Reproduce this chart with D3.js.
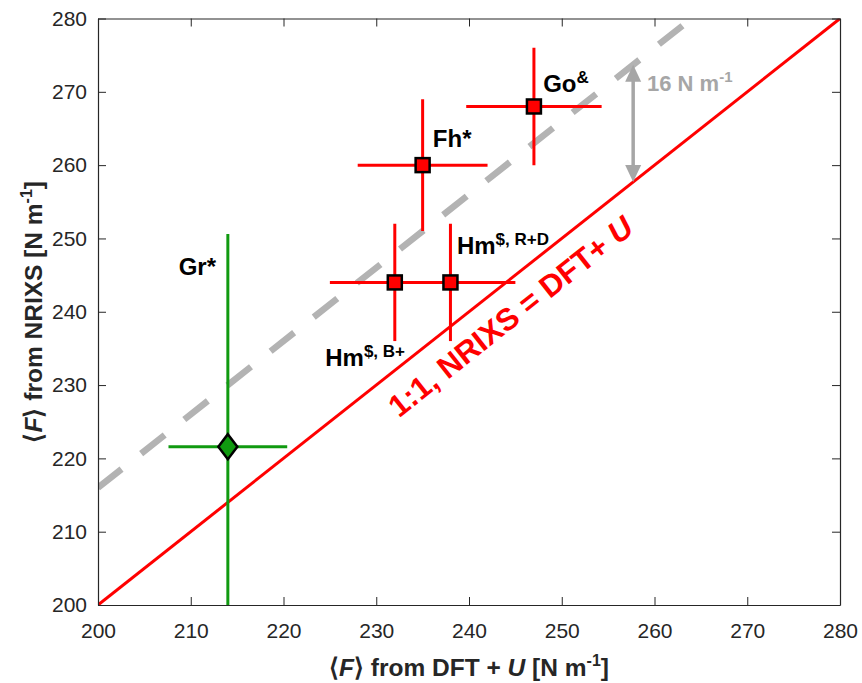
<!DOCTYPE html>
<html>
<head>
<meta charset="utf-8">
<script src="https://cdn.jsdelivr.net/npm/d3@7"></script>
<style>
  body { margin: 0; background: #fff; }
  svg { font-family: Arial, "Liberation Sans", sans-serif; }
</style>
</head>
<body>
<script>
// 数据：DFT+U 与 NRIXS 的平均力常数
var names = ["Gr", "Fh", "Go", "Hm", "Hm"];
var sups = ["*", "*", "&", "$, B+", "$, R+D"];
var dftVals = [214, 235, 247, 232, 238];
var nrixsVals = [221.6, 260, 268, 244, 244];
var dftErr = [6.4, 7, 7.3, 7, 7];
var nrixsErr = [29, 9, 8, 8, 8];
var kinds = ["diamond", "square", "square", "square", "square"];
var ticks = [200, 210, 220, 230, 240, 250, 260, 270, 280];
var offset = 16; // 虚线 NRIXS = DFT+U + 16

// 标签位置（数据坐标）
var labelX = [208.7, 236.1, 248.0, 224.5, 238.7];
var labelY = [245.0, 262.5, 270.0, 232.6, 247.9];

var W = 862, H = 683;
var red = "#ff0000", green = "#109a10", gray = "#b3b3b3", axisCol = "#262626";

var svg = d3.select("body").append("svg")
    .attr("width", W).attr("height", H);

var x = d3.scaleLinear().domain([200, 280]).range([98, 840]);
var y = d3.scaleLinear().domain([200, 280]).range([605, 18.5]);

svg.append("clipPath").attr("id", "clip")
  .append("rect")
    .attr("x", x(200)).attr("y", y(280))
    .attr("width", x(280) - x(200)).attr("height", y(200) - y(280));

var plot = svg.append("g").attr("clip-path", "url(#clip)");

// 1:1 线
plot.append("line")
    .attr("x1", x(200)).attr("y1", y(200))
    .attr("x2", x(280)).attr("y2", y(280))
    .attr("stroke", red).attr("stroke-width", 3);

// 虚线 +16
plot.append("line")
    .attr("x1", x(200)).attr("y1", y(200 + offset))
    .attr("x2", x(280 - offset)).attr("y2", y(280))
    .attr("stroke", gray).attr("stroke-width", 6.5)
    .attr("stroke-dasharray", "30,25");

// 双向箭头
var ax = 257.7;
var ay1 = y(ax), ay2 = y(ax + offset);
var arrowCol = "#a6a6a6";
plot.append("line")
    .attr("x1", x(ax)).attr("x2", x(ax))
    .attr("y1", ay1 - 14).attr("y2", ay2 + 14)
    .attr("stroke", arrowCol).attr("stroke-width", 3.5);
plot.append("path")
    .attr("d", "M" + x(ax) + "," + ay2 + "l-8,17l16,0z")
    .attr("fill", arrowCol);
plot.append("path")
    .attr("d", "M" + x(ax) + "," + ay1 + "l-8,-17l16,0z")
    .attr("fill", arrowCol);

// 误差棒
var pts = d3.range(names.length);
pts.forEach(function(i) {
    var c = kinds[i] == "diamond" ? green : red;
    plot.append("line")
        .attr("x1", x(dftVals[i] - dftErr[i])).attr("x2", x(dftVals[i] + dftErr[i]))
        .attr("y1", y(nrixsVals[i])).attr("y2", y(nrixsVals[i]))
        .attr("stroke", c).attr("stroke-width", 3);
    plot.append("line")
        .attr("x1", x(dftVals[i])).attr("x2", x(dftVals[i]))
        .attr("y1", y(nrixsVals[i] - nrixsErr[i])).attr("y2", y(nrixsVals[i] + nrixsErr[i]))
        .attr("stroke", c).attr("stroke-width", 3);
});

// 标记
pts.forEach(function(i) {
    var cx = x(dftVals[i]), cy = y(nrixsVals[i]);
    if (kinds[i] == "diamond") {
        plot.append("path")
            .attr("d", "M" + cx + "," + (cy - 12.5) + "L" + (cx + 9.5) + "," + cy +
                  "L" + cx + "," + (cy + 12.5) + "L" + (cx - 9.5) + "," + cy + "Z")
            .attr("fill", green).attr("stroke", "#000").attr("stroke-width", 2.5);
    } else {
        plot.append("rect")
            .attr("x", cx - 7).attr("y", cy - 7)
            .attr("width", 14).attr("height", 14)
            .attr("fill", red).attr("stroke", "#000").attr("stroke-width", 2.5);
    }
});

// 点标签
pts.forEach(function(i) {
    var t = svg.append("text")
        .attr("x", x(labelX[i])).attr("y", y(labelY[i]))
        .attr("font-weight", "bold").attr("font-size", 24).attr("fill", "#000");
    t.append("tspan").text(names[i]);
    if (sups[i] == "*") {
        t.append("tspan").text("*");
    } else {
        t.append("tspan").attr("font-size", 17).attr("dy", -9).text(sups[i]);
    }
});

// 16 N m-1
var lab16 = svg.append("text")
    .attr("x", 647).attr("y", 91)
    .attr("font-weight", "bold").attr("font-size", 22).attr("fill", arrowCol);
lab16.append("tspan").text("16 N m");
lab16.append("tspan").attr("font-size", 15).attr("dy", -9).text("-1");

// 1:1 文字
var ang = Math.atan2(y(280) - y(200), x(280) - x(200)) * 180 / Math.PI;
var tx = x(245.2), ty = y(238.2);
var rt = svg.append("text")
    .attr("transform", "translate(" + tx + "," + ty + ") rotate(" + ang + ")")
    .attr("text-anchor", "middle")
    .attr("font-weight", "bold").attr("font-size", 31).attr("fill", red);
rt.append("tspan").text("1:1, NRIXS = DFT+ ");
rt.append("tspan").attr("font-style", "italic").text("U");

// 坐标轴
function styleAxis(g) {
    g.select(".domain").attr("stroke", axisCol);
    g.selectAll(".tick line").attr("stroke", axisCol);
    g.selectAll(".tick text").attr("fill", axisCol).attr("font-size", 21)
        .attr("font-family", "Arial, 'Liberation Sans', sans-serif");
}
svg.append("g").attr("transform", "translate(0," + y(200) + ")")
    .call(d3.axisBottom(x).tickValues(ticks).tickSize(-8).tickSizeOuter(0).tickPadding(18))
    .call(styleAxis);
svg.append("g").attr("transform", "translate(" + x(200) + ",0)")
    .call(d3.axisLeft(y).tickValues(ticks).tickSize(-8).tickSizeOuter(0).tickPadding(11))
    .call(styleAxis);
svg.append("g").attr("transform", "translate(0," + y(280) + ")")
    .call(d3.axisTop(x).tickValues(ticks).tickSize(-8).tickSizeOuter(0).tickFormat(""))
    .call(styleAxis);
svg.append("g").attr("transform", "translate(" + x(280) + ",0)")
    .call(d3.axisRight(y).tickValues(ticks).tickSize(-8).tickSizeOuter(0).tickFormat(""))
    .call(styleAxis);
svg.selectAll(".domain").attr("stroke-width", 1.2);

// 轴标题
var xl = svg.append("text")
    .attr("x", (x(200) + x(280)) / 2).attr("y", 676)
    .attr("text-anchor", "middle").attr("font-weight", "bold")
    .attr("font-size", 24.5).attr("fill", axisCol);
xl.append("tspan").text("\u27E8");
xl.append("tspan").attr("font-style", "italic").text("F");
xl.append("tspan").text("\u27E9 from DFT + ");
xl.append("tspan").attr("font-style", "italic").text("U");
xl.append("tspan").text(" [N m");
xl.append("tspan").attr("font-size", 16).attr("dy", -10).text("-1");
xl.append("tspan").attr("dy", 10).text("]");

var yl = svg.append("text")
    .attr("transform", "translate(42," + (y(200) + y(280)) / 2 + ") rotate(-90)")
    .attr("text-anchor", "middle").attr("font-weight", "bold")
    .attr("font-size", 24.5).attr("fill", axisCol);
yl.append("tspan").text("\u27E8");
yl.append("tspan").attr("font-style", "italic").text("F");
yl.append("tspan").text("\u27E9 from NRIXS [N m");
yl.append("tspan").attr("font-size", 16).attr("dy", -10).text("-1");
yl.append("tspan").attr("dy", 10).text("]");
</script>
</body>
</html>
